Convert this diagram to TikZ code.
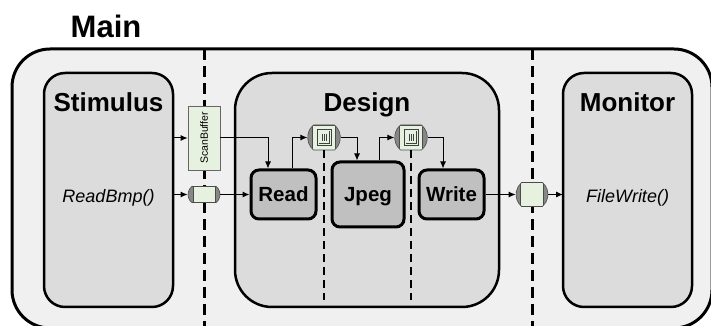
\documentclass[tikz,border=0pt]{standalone}
\usepackage{fontspec}
\setmainfont{Liberation Sans}
\usetikzlibrary{shapes.misc}
\usetikzlibrary{arrows.meta}
\usetikzlibrary{positioning}

\definecolor{mainbg}{RGB}{239,240,239}
\definecolor{blockbg}{RGB}{220,220,220}
\definecolor{taskbg}{RGB}{192,192,192}
\definecolor{fifogreen}{RGB}{230,241,223}
\definecolor{capgray}{RGB}{135,135,135}

\begin{document}
\begin{tikzpicture}[x=1pt,y=1pt,>={Latex[length=7pt,width=6pt]},
  title/.style={font=\fontsize{26}{30}\selectfont\bfseries, anchor=base},
  func/.style={font=\fontsize{18}{22}\selectfont\itshape, anchor=base},
  block/.style={draw, line width=2.5pt, fill=blockbg},
  task/.style={draw, line width=3pt, fill=taskbg, rounded corners=8pt,
    font=\fontsize{20.5}{24}\selectfont\bfseries, text height=15pt, text depth=0pt,
    inner sep=0pt},
  buffer/.style={draw=black!60, line width=0.7pt, fill=fifogreen, inner sep=0pt,
    minimum width=32pt, minimum height=64pt, font=\fontsize{10.5}{12}\selectfont},
  chan/.style={rounded rectangle, rounded rectangle arc length=100,
    draw=black!70, line width=0.6pt, fill=capgray, inner sep=0pt,
    minimum width=32pt, minimum height=#1,
    path picture={\filldraw[fill=fifogreen, draw=black!70, line width=0.6pt]
      ([xshift=5.5pt]path picture bounding box.south west) rectangle
      ([xshift=-5.5pt]path picture bounding box.north east);}},
  chanlog/.style={chan=25pt,
    path picture={\filldraw[fill=fifogreen, draw=black!70, line width=0.6pt]
      ([xshift=5.5pt]path picture bounding box.south west) rectangle
      ([xshift=-5.5pt]path picture bounding box.north east);
      \draw[black!75, line width=0.6pt]
      ([shift={(-7pt,-8pt)}]path picture bounding box.center) rectangle
      ([shift={(7pt,8pt)}]path picture bounding box.center);
      \draw[black!75, line width=0.5pt]
      ([shift={(-5pt,-6pt)}]path picture bounding box.center) --
      ([shift={(5pt,-6pt)}]path picture bounding box.center) --
      ([shift={(5pt,6pt)}]path picture bounding box.center);
      \foreach \dx in {-2,0,2}
        \draw[black!75, line width=0.5pt]
        ([shift={(\dx pt,-3.5pt)}]path picture bounding box.center) --
        ([shift={(\dx pt,3.5pt)}]path picture bounding box.center);}},
  thick dash/.style={line width=3pt, dash pattern=on 11pt off 6pt},
  thin dash/.style={line width=1.5pt, dash pattern=on 8pt off 5pt}]
\useasboundingbox (0,0) rectangle (711,326);

% top level
\draw[line width=3pt, fill=mainbg, rounded corners=38pt] (12,277) rectangle (712,-2);
\node[title, font=\fontsize{31}{34}\selectfont\bfseries] (main) at (106,288) {Main};
\draw[thick dash] (204,277) -- (204,0);
\draw[thick dash] (532,277) -- (532,0);

% the three blocks
\draw[block, rounded corners=21pt] (44,253) rectangle (173,19);
\draw[block, rounded corners=37pt] (235,253) rectangle (499,19);
\draw[block, rounded corners=21pt] (563,253) rectangle (692,19);
\coordinate (stim) at (173,131.5);
\coordinate (mon) at (563,131.5);
\node[title] (stimtitle) at (108.5,214) {Stimulus};
\node[title] (designtitle) at (367,214) {Design};
\node[title] (montitle) at (627.5,214) {Monitor};
\node[func] (readbmp) at (108.5,123) {ReadBmp()};
\node[func] (filewrite) at (627.5,123) {FileWrite()};

% processes inside Design
\node[task, minimum width=65pt, minimum height=49pt] (read) at (283.5,131.5) {Read};
\node[task, minimum width=72pt, minimum height=65pt] (jpeg) at (368,131.5) {Jpeg};
\node[task, minimum width=65pt, minimum height=49pt] (write) at (451.5,131.5) {Write};

% channels
\node[buffer] (scan) at (204,188) {\rotatebox{90}{ScanBuffer}};
\node[chan=16pt] (chin) at (204,131.5) {};
\node[chanlog] (ch1) at (324,188.5) {};
\node[chanlog] (ch2) at (411,188.5) {};
\node[chan=24pt] (chout) at (532,131.5) {};
\draw[thin dash] (ch1.south) -- (ch1.south |- 0,26);
\draw[thin dash] (ch2.south) -- (ch2.south |- 0,26);

% connections
\draw[->, line width=1pt] (stim |- scan.west) -- (scan.west);
\draw[->, line width=1pt] (scan.east) -| ([xshift=-15.5pt]read.north);
\draw[->, line width=1pt] (stim) -- (chin.west);
\draw[->, line width=1pt] (chin.east) -- (read.west);
\draw[->, line width=1pt] ([xshift=8.5pt]read.north) |- (ch1.west);
\draw[->, line width=1pt] (ch1.east) -| ([xshift=-11pt]jpeg.north);
\draw[->, line width=1pt] ([xshift=11pt]jpeg.north) |- (ch2.west);
\draw[->, line width=1pt] (ch2.east) -| ([xshift=-8.5pt]write.north);
\draw[->, line width=1pt] (write.east) -- (chout.west);
\draw[->, line width=1pt] (chout.east) -- (mon);
\end{tikzpicture}
\end{document}
